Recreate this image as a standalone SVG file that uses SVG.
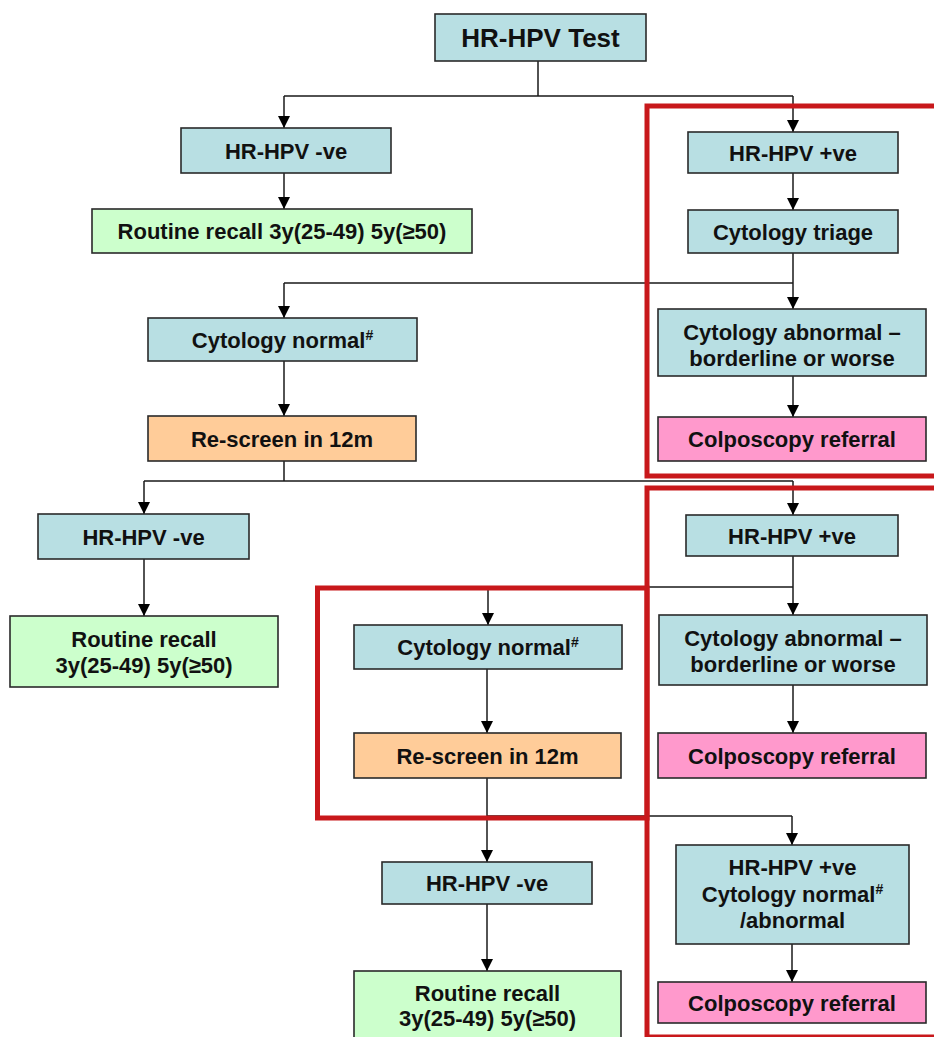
<svg xmlns="http://www.w3.org/2000/svg" width="934" height="1037" viewBox="0 0 934 1037">
<style>
.bx{stroke:#2a2a2a;stroke-width:1.6}
.blue{fill:#B8DFE3}
.green{fill:#CCFFCC}
.orange{fill:#FFCC99}
.pink{fill:#FF99CC}
.t{font-family:"Liberation Sans",Arial,sans-serif;font-weight:bold;font-size:22px;fill:#111;text-anchor:middle}
.big{font-size:26px}
.sup{font-size:14px}
.c{fill:none;stroke:#1a1a1a;stroke-width:1.5}
.red{fill:none;stroke:#C8181B;stroke-width:5}
</style>
<defs>
<marker id="ah" markerUnits="userSpaceOnUse" markerWidth="13" markerHeight="13" refX="12" refY="6.5" orient="auto">
<path d="M0,0.5 L12,6.5 L0,12.5 z" fill="#000"/>
</marker>
</defs>
<rect width="934" height="1037" fill="#fff"/>
<g id="connectors">
<path class="c" d="M538,61 V96 M284,96 H793"/>
<path class="c" d="M284,96 V128" marker-end="url(#ah)"/>
<path class="c" d="M793,96 V132" marker-end="url(#ah)"/>
<path class="c" d="M284,173 V209" marker-end="url(#ah)"/>
<path class="c" d="M793,173 V210" marker-end="url(#ah)"/>
<path class="c" d="M793,253 V283 M284,283 H793"/>
<path class="c" d="M284,283 V318" marker-end="url(#ah)"/>
<path class="c" d="M793,283 V309" marker-end="url(#ah)"/>
<path class="c" d="M793,376 V417" marker-end="url(#ah)"/>
<path class="c" d="M284,361 V416" marker-end="url(#ah)"/>
<path class="c" d="M284,461 V481 M144,481 H793"/>
<path class="c" d="M144,481 V514" marker-end="url(#ah)"/>
<path class="c" d="M793,481 V515" marker-end="url(#ah)"/>
<path class="c" d="M144,559 V616" marker-end="url(#ah)"/>
<path class="c" d="M793,556 V587 M488,587 H793"/>
<path class="c" d="M488,587 V625" marker-end="url(#ah)"/>
<path class="c" d="M793,587 V615" marker-end="url(#ah)"/>
<path class="c" d="M793,685 V733" marker-end="url(#ah)"/>
<path class="c" d="M487,669 V733" marker-end="url(#ah)"/>
<path class="c" d="M487,778 V862" marker-end="url(#ah)"/>
<path class="c" d="M487,816 H792"/>
<path class="c" d="M792,816 V845" marker-end="url(#ah)"/>
<path class="c" d="M487,904 V971" marker-end="url(#ah)"/>
<path class="c" d="M792,944 V982" marker-end="url(#ah)"/>
</g>
<g id="n-test"><rect class="bx blue" x="435" y="14" width="211" height="47"/><text class="t big" x="540.5" y="47">HR-HPV Test</text></g>
<g id="n-neg1"><rect class="bx blue" x="181" y="128" width="210" height="45"/><text class="t" x="286" y="158.5">HR-HPV -ve</text></g>
<g id="n-recall1"><rect class="bx green" x="92" y="209" width="380" height="44"/><text class="t" x="282" y="239">Routine recall 3y(25-49) 5y(≥50)</text></g>
<g id="n-pos1"><rect class="bx blue" x="688" y="132" width="210" height="41"/><text class="t" x="793" y="160.5">HR-HPV +ve</text></g>
<g id="n-triage"><rect class="bx blue" x="688" y="210" width="210" height="43"/><text class="t" x="793" y="239.5">Cytology triage</text></g>
<g id="n-abn1"><rect class="bx blue" x="658" y="309" width="268" height="67"/><text class="t" x="792" y="339.5">Cytology abnormal –</text><text class="t" x="792" y="365.5">borderline or worse</text></g>
<g id="n-colpo1"><rect class="bx pink" x="658" y="417" width="268" height="44"/><text class="t" x="792" y="447">Colposcopy referral</text></g>
<g id="n-norm1"><rect class="bx blue" x="148" y="318" width="269" height="43"/><text class="t" x="282.5" y="347.5">Cytology normal<tspan class="sup" dy="-8">#</tspan></text></g>
<g id="n-rescreen1"><rect class="bx orange" x="148" y="416" width="268" height="45"/><text class="t" x="282" y="446.5">Re-screen in 12m</text></g>
<g id="n-neg2"><rect class="bx blue" x="38" y="514" width="211" height="45"/><text class="t" x="143.5" y="544.5">HR-HPV -ve</text></g>
<g id="n-recall2"><rect class="bx green" x="10" y="616" width="268" height="71"/><text class="t" x="144" y="647">Routine recall</text><text class="t" x="144" y="673">3y(25-49) 5y(≥50)</text></g>
<g id="n-pos2"><rect class="bx blue" x="686" y="515" width="212" height="41"/><text class="t" x="792" y="543.5">HR-HPV +ve</text></g>
<g id="n-abn2"><rect class="bx blue" x="659" y="615" width="268" height="70"/><text class="t" x="793" y="645.5">Cytology abnormal –</text><text class="t" x="793" y="671.5">borderline or worse</text></g>
<g id="n-colpo2"><rect class="bx pink" x="658" y="733" width="268" height="45"/><text class="t" x="792" y="763.5">Colposcopy referral</text></g>
<g id="n-norm2"><rect class="bx blue" x="354" y="625" width="268" height="44"/><text class="t" x="488" y="655">Cytology normal<tspan class="sup" dy="-8">#</tspan></text></g>
<g id="n-rescreen2"><rect class="bx orange" x="354" y="733" width="267" height="45"/><text class="t" x="487.5" y="763.5">Re-screen in 12m</text></g>
<g id="n-neg3"><rect class="bx blue" x="382" y="862" width="210" height="42"/><text class="t" x="487" y="891">HR-HPV -ve</text></g>
<g id="n-recall3"><rect class="bx green" x="354" y="971" width="267" height="80"/><text class="t" x="487.5" y="1001">Routine recall</text><text class="t" x="487.5" y="1026">3y(25-49) 5y(≥50)</text></g>
<g id="n-mixed"><rect class="bx blue" x="676" y="845" width="233" height="99"/><text class="t" x="792.5" y="875">HR-HPV +ve</text><text class="t" x="792.5" y="902">Cytology normal<tspan class="sup" dy="-8">#</tspan></text><text class="t" x="792.5" y="928">/abnormal</text></g>
<g id="n-colpo3"><rect class="bx pink" x="658" y="982" width="268" height="41"/><text class="t" x="792" y="1010.5">Colposcopy referral</text></g>
<g id="highlights">
<rect class="red" x="647" y="106" width="300" height="370"/>
<rect class="red" x="647" y="488" width="300" height="549"/>
<rect class="red" x="317.5" y="588" width="329.5" height="230"/>
</g>
</svg>
